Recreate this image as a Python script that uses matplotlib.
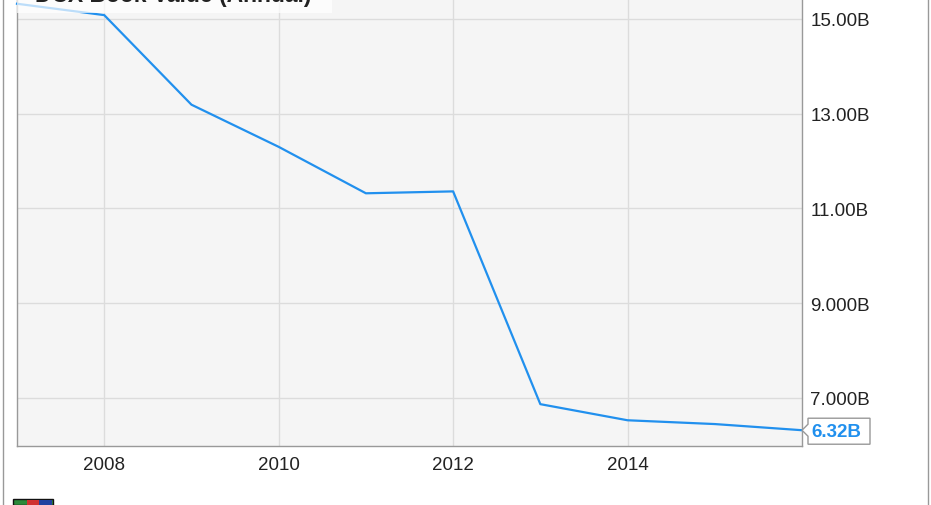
import matplotlib
matplotlib.use('Agg')
import matplotlib.pyplot as plt
from matplotlib.patches import Polygon, Rectangle
from matplotlib.lines import Line2D
from matplotlib import transforms

plt.rcParams['font.family'] = ['Liberation Sans', 'DejaVu Sans']

# данные: балансовая стоимость DCX по годам, млрд
years = [2007, 2008, 2009, 2010, 2011, 2012, 2013, 2014, 2015, 2016]
book_value = [15.32, 15.08, 13.19, 12.30, 11.32, 11.36, 6.87, 6.53, 6.45, 6.32]
y_ticks = [7, 9, 11, 13, 15]
y_labels = ['7.000B', '9.000B', '11.00B', '13.00B', '15.00B']
x_ticks = [2008, 2010, 2012, 2014]
title = 'DCX Book Value (Annual)'
last_label = '6.32B'

W, H = 931, 506
fig = plt.figure(figsize=(W / 100, H / 100), dpi=100)
ax = fig.add_axes([17 / W, (H - 447) / H, (802 - 17) / W, 447 / H])
ax.set_facecolor('#f5f5f5')

line_color = '#2190ee'
ax.plot(years, book_value, color=line_color, lw=1.6, zorder=3, clip_on=False)

ax.set_xlim(2007, 2016)
ax.set_ylim(5.987, 15.42)
ax.set_xticks(x_ticks)
ax.set_xticklabels([str(x) for x in x_ticks])
ax.set_yticks(y_ticks)
ax.set_yticklabels(y_labels)
ax.yaxis.tick_right()
ax.tick_params(length=0, labelsize=13.5, colors='#222222')
ax.tick_params(axis='x', pad=7)
ax.tick_params(axis='y', pad=6)
ax.grid(True, color='#dcdcdc', lw=1)
ax.set_axisbelow(True)

for side in ['left', 'bottom', 'right']:
    ax.spines[side].set_color('#999999')
    ax.spines[side].set_linewidth(1)
ax.spines['top'].set_visible(False)

# метка последнего значения со стрелкой влево
tr = transforms.Affine2D() + transforms.ScaledTranslation(years[-1], book_value[-1], ax.transData)
pts = [(0, 0), (6, 6), (6, 12), (68, 12), (68, -14), (6, -14), (6, -6)]
ax.add_patch(Polygon(pts, closed=True, transform=tr, facecolor='white',
                     edgecolor='#999999', lw=1, clip_on=False, zorder=5))
ax.annotate(last_label, (years[-1], book_value[-1]), xytext=(9.5, -1), textcoords='offset pixels',
            ha='left', va='center', fontsize=13.5, fontweight='bold', color=line_color,
            annotation_clip=False, zorder=6)

# заголовок (обрезан сверху, как в исходной картинке)
fig.add_artist(Rectangle((17 / W, (H - 14) / H), (332 - 17) / W, 14 / H,
                         transform=fig.transFigure, facecolor='white', alpha=0.7,
                         edgecolor='none', zorder=4))
fig.text(35 / W, (H - 2) / H, title, ha='left', va='baseline', fontsize=16.5,
         fontweight='bold', color='#222222', zorder=5)

# рамка слева и справа
for xp in [2.5, 927.5]:
    fig.add_artist(Line2D([xp / W, xp / W], [0, 1], transform=fig.transFigure,
                          color='#999999', lw=1))

# кусочек логотипа внизу
fig.add_artist(Rectangle((13 / W, 0), 40 / W, 6 / H, transform=fig.transFigure,
                         facecolor='#2a8a3a', edgecolor='#111111', lw=1))
fig.add_artist(Rectangle((27 / W, 0), 12 / W, 5 / H, transform=fig.transFigure,
                         facecolor='#d03030', edgecolor='none'))
fig.add_artist(Rectangle((39 / W, 0), 13 / W, 5 / H, transform=fig.transFigure,
                         facecolor='#2040a0', edgecolor='none'))

fig.savefig('out.png', dpi=100)
